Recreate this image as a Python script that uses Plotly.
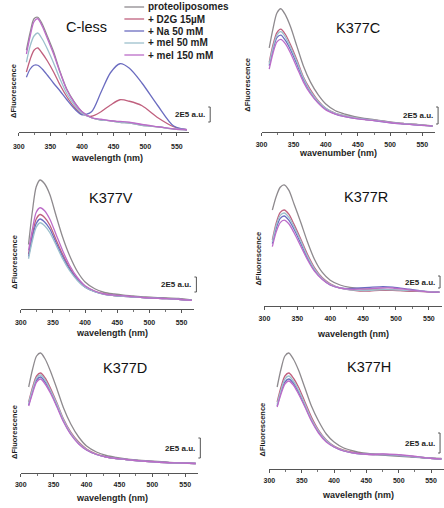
import plotly.graph_objects as go

# wavelength grid (nm)
W = [312, 318, 324, 330, 337, 345, 355, 365, 376, 388, 400, 415, 430, 445, 460, 475, 495, 520, 545, 566]

SERIES = ["proteoliposomes", "+ D2G 15\u00b5M", "+ Na 50 mM", "+ mel 50 mM", "+ mel 150 mM"]
COLORS = ["#8e8a8e", "#c0607e", "#6b6cc0", "#9cc0cc", "#bc6cc8"]
PANEL_TITLES = ["C-less", "K377C", "K377V", "K377R", "K377D", "K377H"]
X_TITLES = ["wavelength (nm)", "wavenumber (nm)", "wavelength (nm)", "wavelength (nm)",
            "wavelength (nm)", "wavelength (nm)"]
X_TICKS = [300, 350, 400, 450, 500, 550]
Y_LABEL = "\u0394Fluorescence"
SCALE_LABEL = "2E5 a.u."
SCALE_VALUE = 2.0  # in 1E5 a.u.

# fluorescence in 1E5 a.u.  (order: proteo, D2G, Na, mel50, mel150)
CLESS_PROTEO = [10.9, 13.3, 15.1, 15.3, 14.4, 12.8, 10.7, 8.1, 5.7, 4.0, 2.7, 1.9, 1.6, 1.5, 1.3, 1.2, 0.9, 0.7, 0.4, 0.3]
CLESS_D2G = [8.0, 9.7, 10.9, 11.2, 10.5, 9.5, 8.0, 6.3, 4.7, 3.3, 2.4, 2.1, 2.7, 3.6, 4.3, 4.1, 3.5, 1.9, 0.7, 0.3]
CLESS_NA = [7.3, 8.4, 8.9, 8.9, 8.4, 7.6, 6.5, 5.5, 4.3, 3.1, 2.3, 2.7, 5.3, 7.9, 9.1, 8.5, 6.5, 3.5, 0.8, 0.3]
CLESS_MEL50 = [9.3, 11.5, 12.8, 13.2, 12.4, 11.1, 9.2, 7.1, 5.1, 3.6, 2.5, 1.9, 1.6, 1.5, 1.3, 1.2, 0.9, 0.7, 0.4, 0.3]
CLESS_MEL150 = [10.4, 12.8, 14.7, 15.1, 14.1, 12.5, 10.4, 8.0, 5.6, 3.9, 2.7, 1.9, 1.7, 1.5, 1.4, 1.3, 1.0, 0.7, 0.4, 0.3]

K377C_PROTEO = [9.9, 12.2, 14.0, 14.5, 13.8, 12.4, 10.1, 7.8, 5.9, 4.4, 3.3, 2.5, 2.1, 1.8, 1.6, 1.45, 1.24, 1.0, 0.87, 0.73]
K377C_D2G = [8.2, 10.3, 11.7, 12.1, 11.5, 10.3, 8.5, 6.5, 5.0, 3.7, 2.8, 2.2, 1.9, 1.7, 1.5, 1.4, 1.2, 1.0, 0.85, 0.7]
K377C_NA = [7.8, 9.7, 11.1, 11.4, 10.8, 9.7, 8.0, 6.2, 4.7, 3.5, 2.7, 2.1, 1.8, 1.6, 1.5, 1.35, 1.15, 0.95, 0.8, 0.7]
K377C_MEL50 = [8.0, 10.0, 11.4, 11.8, 11.2, 10.0, 8.3, 6.4, 4.8, 3.6, 2.8, 2.2, 1.9, 1.7, 1.5, 1.4, 1.2, 1.0, 0.85, 0.7]
K377C_MEL150 = [7.4, 9.3, 10.6, 10.9, 10.4, 9.3, 7.6, 5.9, 4.5, 3.4, 2.6, 2.1, 1.8, 1.6, 1.45, 1.35, 1.15, 0.95, 0.8, 0.7]

K377V_PROTEO = [8.6, 13.0, 16.3, 17.2, 16.7, 15.3, 12.4, 9.6, 7.1, 5.0, 3.6, 2.7, 2.2, 2.0, 1.85, 1.75, 1.6, 1.5, 1.4, 1.2]
K377V_D2G = [7.3, 9.9, 12.0, 12.6, 12.2, 11.2, 9.2, 7.3, 5.5, 4.0, 3.0, 2.35, 2.0, 1.8, 1.7, 1.6, 1.5, 1.4, 1.3, 1.15]
K377V_NA = [7.0, 9.5, 11.4, 12.0, 11.6, 10.7, 8.8, 7.0, 5.3, 3.9, 2.9, 2.3, 1.95, 1.8, 1.7, 1.6, 1.5, 1.4, 1.3, 1.15]
K377V_MEL50 = [6.7, 9.1, 10.9, 11.5, 11.1, 10.2, 8.5, 6.7, 5.1, 3.8, 2.9, 2.3, 1.95, 1.8, 1.7, 1.6, 1.5, 1.4, 1.3, 1.15]
K377V_MEL150 = [7.8, 10.6, 12.9, 13.5, 13.1, 12.0, 9.9, 7.8, 5.8, 4.2, 3.1, 2.4, 2.0, 1.85, 1.75, 1.65, 1.5, 1.4, 1.3, 1.15]

K377R_PROTEO = [16.0, 18.3, 19.8, 20.2, 19.3, 17.0, 14.0, 10.8, 7.8, 5.6, 4.3, 3.5, 3.1, 2.9, 2.8, 2.8, 2.7, 2.5, 2.4, 2.3]
K377R_D2G = [11.0, 13.9, 15.6, 16.0, 15.3, 13.6, 11.2, 8.7, 6.4, 4.7, 3.7, 3.0, 2.7, 2.5, 2.5, 2.6, 2.6, 2.5, 2.4, 2.3]
K377R_NA = [10.4, 13.0, 14.6, 15.0, 14.3, 12.8, 10.5, 8.1, 6.0, 4.5, 3.5, 3.0, 2.9, 3.0, 3.1, 3.2, 3.15, 2.8, 2.45, 2.3]
K377R_MEL50 = [10.7, 13.5, 15.1, 15.5, 14.8, 13.2, 10.9, 8.4, 6.2, 4.6, 3.6, 3.0, 2.7, 2.6, 2.6, 2.7, 2.7, 2.6, 2.45, 2.3]
K377R_MEL150 = [9.9, 12.4, 13.9, 14.3, 13.7, 12.2, 10.0, 7.8, 5.8, 4.4, 3.5, 3.0, 2.8, 2.8, 2.9, 3.0, 3.0, 2.7, 2.4, 2.3]

K377D_PROTEO = [8.6, 10.4, 11.7, 12.0, 11.4, 10.2, 8.4, 6.5, 4.9, 3.6, 2.7, 2.1, 1.75, 1.55, 1.4, 1.3, 1.2, 1.1, 1.0, 0.95]
K377D_D2G = [7.1, 8.6, 9.7, 10.0, 9.5, 8.5, 7.0, 5.4, 4.1, 3.1, 2.4, 1.9, 1.6, 1.45, 1.35, 1.25, 1.15, 1.05, 1.0, 0.95]
K377D_NA = [6.8, 8.2, 9.3, 9.6, 9.1, 8.2, 6.7, 5.2, 3.9, 2.95, 2.3, 1.85, 1.6, 1.45, 1.35, 1.25, 1.15, 1.05, 1.0, 0.95]
K377D_MEL50 = [7.0, 8.4, 9.5, 9.8, 9.3, 8.3, 6.9, 5.3, 4.0, 3.0, 2.35, 1.85, 1.6, 1.45, 1.35, 1.25, 1.15, 1.05, 1.0, 0.95]
K377D_MEL150 = [6.7, 8.0, 9.1, 9.4, 8.9, 8.0, 6.6, 5.1, 3.85, 2.9, 2.3, 1.85, 1.6, 1.45, 1.35, 1.25, 1.15, 1.05, 1.0, 0.95]

K377H_PROTEO = [8.2, 10.0, 11.3, 11.6, 11.0, 9.9, 8.1, 6.3, 4.8, 3.5, 2.7, 2.1, 1.8, 1.6, 1.5, 1.4, 1.3, 1.2, 1.1, 1.05]
K377H_D2G = [6.7, 8.2, 9.3, 9.6, 9.1, 8.2, 6.7, 5.2, 3.9, 2.9, 2.3, 1.9, 1.65, 1.5, 1.45, 1.45, 1.4, 1.25, 1.1, 1.0]
K377H_NA = [6.3, 7.7, 8.7, 9.0, 8.6, 7.7, 6.3, 4.9, 3.7, 2.8, 2.2, 1.8, 1.6, 1.5, 1.45, 1.45, 1.4, 1.25, 1.1, 1.0]
K377H_MEL50 = [6.5, 7.9, 9.0, 9.3, 8.8, 7.9, 6.5, 5.0, 3.8, 2.85, 2.25, 1.85, 1.6, 1.5, 1.45, 1.45, 1.4, 1.25, 1.1, 1.0]
K377H_MEL150 = [6.2, 7.5, 8.5, 8.8, 8.4, 7.5, 6.2, 4.8, 3.6, 2.7, 2.2, 1.8, 1.6, 1.5, 1.45, 1.5, 1.45, 1.3, 1.1, 1.0]

PANEL_DATA = [
    [CLESS_PROTEO, CLESS_D2G, CLESS_NA, CLESS_MEL50, CLESS_MEL150],
    [K377C_PROTEO, K377C_D2G, K377C_NA, K377C_MEL50, K377C_MEL150],
    [K377V_PROTEO, K377V_D2G, K377V_NA, K377V_MEL50, K377V_MEL150],
    [K377R_PROTEO, K377R_D2G, K377R_NA, K377R_MEL50, K377R_MEL150],
    [K377D_PROTEO, K377D_D2G, K377D_NA, K377D_MEL50, K377D_MEL150],
    [K377H_PROTEO, K377H_D2G, K377H_NA, K377H_MEL50, K377H_MEL150],
]

# ---------------- layout (pixel geometry) ----------------
WPX, HPX = 444, 508
XMIN, XMAX = 300, 570
GEOM = [
    dict(l=13, r=186, ax=132, top=5, bar=15, bx=207, bb=122, t=(82, 27), xt=(102, 158), yl=(7, 91), so=5),
    dict(l=259, r=435, ax=132, top=5, bar=17, bx=438, bb=124, t=(357, 28), xt=(337, 153), yl=(244, 85), so=3),
    dict(l=15, r=191, ax=309, top=175, bar=15, bx=193, bb=292, t=(106, 198), xt=(107, 333), yl=(8, 262), so=4),
    dict(l=262, r=442, ax=306, top=180, bar=12, bx=440, bb=288, t=(365, 197), xt=(352, 334), yl=(255, 259), so=3),
    dict(l=15, r=195, ax=473, top=345, bar=20, bx=197, bb=458, t=(121, 368), xt=(107, 498), yl=(8, 432), so=2),
    dict(l=267, r=444, ax=469, top=345, bar=20, bx=440, bb=453, t=(368, 367), xt=(357, 495), yl=(259, 430), so=2),
]

FONT = "Liberation Sans, Arial, sans-serif"
TXT = "#1e1e1e"

def px(x):
    return x / WPX

def py(y):
    return 1 - y / HPX

fig = go.Figure()
layout = dict(width=WPX, height=HPX, margin=dict(l=0, r=0, t=0, b=0),
              paper_bgcolor="white", plot_bgcolor="white", showlegend=False)
shapes, annotations = [], []

for i, g in enumerate(GEOM):
    n = i + 1
    xa = "xaxis" if n == 1 else f"xaxis{n}"
    ya = "yaxis" if n == 1 else f"yaxis{n}"
    xr = "x" if n == 1 else f"x{n}"
    yr = "y" if n == 1 else f"y{n}"
    ppu = g["bar"] / SCALE_VALUE
    ymax = (g["ax"] - g["top"]) / ppu
    right = min(g["r"], WPX)
    xmax = XMIN + (XMAX - XMIN) * (right - g["l"]) / (g["r"] - g["l"])
    layout[xa] = dict(domain=[px(g["l"]), px(right)], range=[XMIN, xmax], anchor=yr,
                      showline=True, linecolor="#555", linewidth=1, showgrid=False, zeroline=False,
                      tickvals=X_TICKS, ticks="outside", ticklen=3, tickcolor="#555",
                      ticklabelstandoff=g["so"],
                      minor=dict(dtick=25, tick0=300, ticks="outside", ticklen=2, tickcolor="#777"),
                      tickfont=dict(family=FONT, size=7, color=TXT, weight="bold"))
    layout[ya] = dict(domain=[py(g["ax"]), py(g["top"])], range=[0, ymax], anchor=xr,
                      visible=False, fixedrange=True)
    for k, series in enumerate(PANEL_DATA[i]):
        fig.add_trace(go.Scatter(x=W, y=series, mode="lines", xaxis=xr, yaxis=yr,
                                 line=dict(color=COLORS[k], width=1.3, shape="spline", smoothing=0.8),
                                 name=SERIES[k], cliponaxis=False))
    # scale bar (2E5 a.u.)
    y0 = (g["ax"] - g["bb"]) / ppu
    y1 = y0 + SCALE_VALUE
    shapes.append(dict(type="line", xref="paper", yref=yr, x0=px(g["bx"]), x1=px(g["bx"]),
                       y0=y0, y1=y1, line=dict(color="#555", width=1)))
    for yy in (y0, y1):
        shapes.append(dict(type="line", xref="paper", yref=yr, x0=px(g["bx"] - 2), x1=px(g["bx"]),
                           y0=yy, y1=yy, line=dict(color="#555", width=1)))
    annotations.append(dict(text=SCALE_LABEL, xref="paper", yref=yr, x=px(g["bx"] - 3),
                            y=(y0 + y1) / 2, xanchor="right", yanchor="middle", showarrow=False,
                            font=dict(family=FONT, size=8, color=TXT, weight="bold")))
    # titles
    annotations.append(dict(text=PANEL_TITLES[i], xref="paper", yref="paper", x=px(g["t"][0]),
                            y=py(g["t"][1]), xanchor="center", yanchor="middle", showarrow=False,
                            font=dict(family=FONT, size=14.5, color="#111")))
    annotations.append(dict(text=X_TITLES[i], xref="paper", yref="paper", x=px(g["xt"][0]),
                            y=py(g["xt"][1]), xanchor="center", yanchor="middle", showarrow=False,
                            font=dict(family=FONT, size=9, color=TXT, weight="bold")))
    annotations.append(dict(text=Y_LABEL, xref="paper", yref="paper", x=px(g["yl"][0]),
                            y=py(g["yl"][1]), xanchor="center", yanchor="middle", showarrow=False,
                            textangle=-90, font=dict(family=FONT, size=7.5, color=TXT, weight="bold")))

# legend inside C-less panel
for k, name in enumerate(SERIES):
    yrow = 7 + 12 * k
    shapes.append(dict(type="line", xref="paper", yref="paper", x0=px(120), x1=px(140),
                       y0=py(yrow), y1=py(yrow), line=dict(color=COLORS[k], width=1.3)))
    annotations.append(dict(text=name, xref="paper", yref="paper", x=px(142), y=py(yrow),
                            xanchor="left", yanchor="middle", showarrow=False,
                            font=dict(family=FONT, size=10, color=TXT, weight="bold")))

layout["shapes"] = shapes
layout["annotations"] = annotations
fig.update_layout(**layout)
fig.write_html("out.html")
